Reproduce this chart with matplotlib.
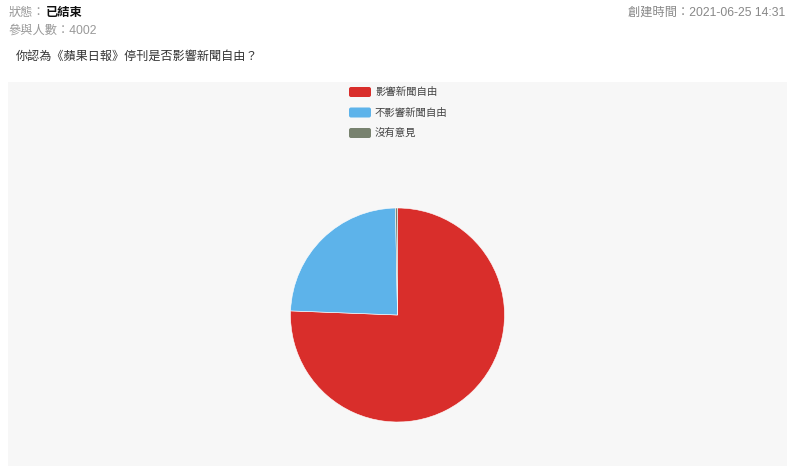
import matplotlib.pyplot as plt
from matplotlib.patches import Rectangle, FancyBboxPatch

plt.rcParams["font.family"] = ["Liberation Sans", "Noto Sans CJK TC", "DejaVu Sans"]

labels = ["影響新聞自由", "不影響新聞自由", "沒有意見"]
votes = [3026, 964, 12]
colors = ["#d92e2b", "#5db3ea", "#78826f"]

status_label = "狀態："
status_value = "已結束"
participants = "參與人數：4002"
created = "創建時間：2021-06-25 14:31"
question = "你認為《蘋果日報》停刊是否影響新聞自由？"

W, H = 800, 466
fig = plt.figure(figsize=(W / 100, H / 100), dpi=100)
fig.patch.set_facecolor("white")


def fx(px):
    return px / W


def fy(py):
    return 1 - py / H


# header
t = fig.text(fx(9), fy(13), status_label, color="#999999", fontsize=8.8, va="center")
fig.canvas.draw()
bb = t.get_window_extent()
fig.text(bb.x1 / W, fy(13), status_value, color="#111111", fontsize=8.8,
         fontweight="bold", va="center")
fig.text(fx(9), fy(31), participants, color="#999999", fontsize=8.8, va="center")
fig.text(fx(785), fy(13), created, color="#888888", fontsize=8.8, va="center", ha="right")
fig.text(fx(16), fy(57), question, color="#333333", fontsize=8.7, va="center")

# chart panel
fig.patches.append(Rectangle((fx(8), 0), fx(787) - fx(8), fy(82), transform=fig.transFigure,
                             facecolor="#f7f7f7", edgecolor="none", zorder=-1))

# pie
cx, cy, r = 397.5, 315, 107
ax = fig.add_axes([fx(cx - r), fy(cy + r), 2 * r / W, 2 * r / H])
ax.set_zorder(2)
ax.pie(votes, colors=colors, startangle=90, counterclock=False,
       wedgeprops=dict(edgecolor="white", linewidth=0.4))
ax.set_xlim(-1, 1)
ax.set_ylim(-1, 1)
ax.set_aspect("equal")
ax.axis("off")

# legend
for i, (lab, col) in enumerate(zip(labels, colors)):
    ymid = 92 + i * 20.5
    fig.patches.append(FancyBboxPatch((fx(349), fy(ymid + 5)), fx(371) - fx(349), 10 / H,
                                      boxstyle="round,pad=0,rounding_size=0.0025",
                                      transform=fig.transFigure, facecolor=col,
                                      edgecolor="none", mutation_aspect=W / H, zorder=3))
    fig.text(fx(375), fy(ymid), lab, color="#444444", fontsize=7.5, va="center")

fig.savefig("out.png", dpi=100)
